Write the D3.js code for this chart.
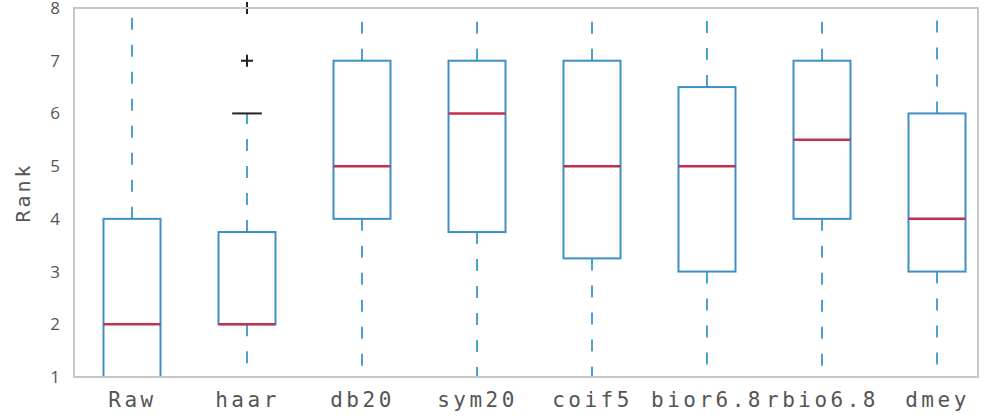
<!DOCTYPE html>
<html><head><meta charset="utf-8">
<script src="https://cdn.jsdelivr.net/npm/d3@7"></script>
<style>body{margin:0;background:#fff}</style>
</head><body>
<script>
const categories = ["Raw","haar","db20","sym20","coif5","bior6.8","rbio6.8","dmey"];
const q1Values     = [1, 2, 4, 3.75, 3.25, 3, 4, 3];
const medianValues = [2, 2, 5, 6, 5, 5, 5.5, 4];
const q3Values     = [4, 3.75, 7, 7, 7, 6.5, 7, 6];
const whiskerLow   = [1, 1, 1, 1, 1, 1, 1, 1];
const whiskerHigh  = [8, 6, 8, 8, 8, 8, 8, 8];
const outlierCats  = ["haar","haar"];
const outlierVals  = [7, 8];
const yTicks = [1,2,3,4,5,6,7,8];

const W = 1005, H = 420;
const m = {left:74, right:27, top:8, bottom:43};
const svg = d3.select("body").append("svg").attr("width",W).attr("height",H);
const x = d3.scalePoint().domain(categories).range([132, 937]);
const boxW = 57;
const y = d3.scaleLinear().domain([1,8]).range([H-m.bottom, m.top]);

const blue = "#3d8fc6", dashBlue = "#4aa2d2", red = "#c2304f";
const g = svg.append("g");
const data = categories.map((c,i)=>({c, q1:q1Values[i], med:medianValues[i], q3:q3Values[i], lo:whiskerLow[i], hi:whiskerHigh[i]}));

data.forEach(d=>{
  const cx = x(d.c);
  g.append("line").attr("x1",cx).attr("x2",cx).attr("y1",y(d.q3)).attr("y2",y(d.hi))
    .attr("stroke",dashBlue).attr("stroke-width",2).attr("stroke-dasharray","12,15");
  g.append("line").attr("x1",cx).attr("x2",cx).attr("y1",y(d.q1)).attr("y2",y(d.lo))
    .attr("stroke",dashBlue).attr("stroke-width",2).attr("stroke-dasharray","12,15");
  const cw = boxW*0.52;
  [d.lo, d.hi].forEach(v=>{
    const edge = (v===1||v===8);
    g.append("line").attr("x1",cx-cw/2).attr("x2",cx+cw/2).attr("y1",y(v)).attr("y2",y(v))
      .attr("stroke", edge ? "#8a8a8a" : "#222").attr("stroke-width",2);
  });
  g.append("rect").attr("x",cx-boxW/2).attr("width",boxW)
    .attr("y",y(d.q3)).attr("height",y(d.q1)-y(d.q3))
    .attr("fill","none").attr("stroke",blue).attr("stroke-width",2);
  g.append("line").attr("x1",cx-boxW/2).attr("x2",cx+boxW/2).attr("y1",y(d.med)).attr("y2",y(d.med))
    .attr("stroke",red).attr("stroke-width",2.5);
});

outlierCats.forEach((c,i)=>{
  const cx = x(c), cy = y(outlierVals[i]);
  const s = 6;
  g.append("path").attr("d",`M${cx-s},${cy}H${cx+s}M${cx},${cy-s}V${cy+s}`)
    .attr("stroke","#222").attr("stroke-width",2);
});

svg.append("rect").attr("x",m.left).attr("y",m.top).attr("width",W-m.left-m.right).attr("height",H-m.top-m.bottom)
  .attr("fill","none").attr("stroke","#c6c6c6").attr("stroke-width",2);

const yAxis = svg.append("g").attr("transform",`translate(${m.left},0)`)
  .call(d3.axisLeft(y).tickValues(yTicks).tickSize(0).tickPadding(14).tickFormat(d3.format("d")));
yAxis.select(".domain").remove();
yAxis.selectAll("text").attr("font-family","'Open Sans', sans-serif").attr("font-size",17).attr("fill","#555");

const xAxis = svg.append("g").attr("transform",`translate(0,${H-m.bottom})`)
  .call(d3.axisBottom(x).tickSize(0).tickPadding(15));
xAxis.select(".domain").remove();
xAxis.selectAll("text").attr("font-family","'DejaVu Sans Mono', monospace").attr("font-size",21).attr("fill","#555").attr("letter-spacing",3.5);

svg.append("text").attr("transform",`translate(30,${(m.top+H-m.bottom)/2}) rotate(-90)`)
  .attr("text-anchor","middle").attr("font-family","'DejaVu Sans Mono', monospace").attr("font-size",20)
  .attr("fill","#555").attr("letter-spacing",3).text("Rank");
</script>
</body></html>
